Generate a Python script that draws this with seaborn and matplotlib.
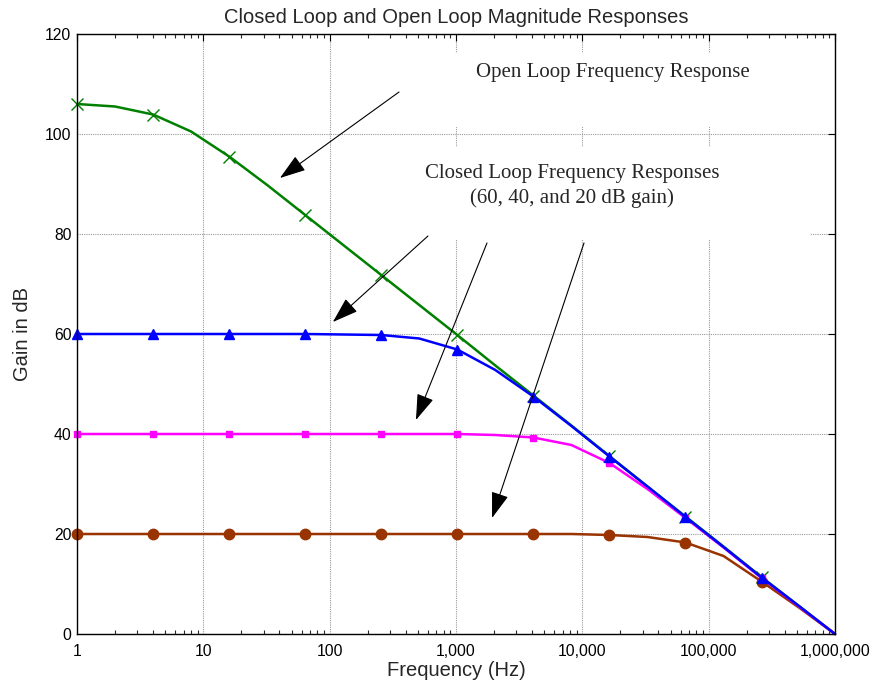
import numpy as np
import pandas as pd
import matplotlib
matplotlib.use("Agg")
import matplotlib.pyplot as plt
from matplotlib.patches import Rectangle
from matplotlib.ticker import FixedLocator, FixedFormatter, LogLocator, NullFormatter
import seaborn as sns

# ---- data ----
freq = [1, 2, 4, 8, 16, 32, 64, 128, 256, 512, 1024, 2048, 4096, 8192,
        16384, 32768, 65536, 131072, 262144, 524288, 1000000]
open_loop = [106.0, 105.5, 103.9, 100.5, 95.5, 89.8, 83.8, 77.8, 71.8, 65.8, 59.8,
             53.7, 47.7, 41.7, 35.6, 29.5, 23.5, 17.5, 11.4, 5.5, 0.0]
closed_60 = [60.0, 60.0, 60.0, 60.0, 60.0, 60.0, 60.0, 59.9, 59.8, 59.1, 56.9,
             52.8, 47.5, 41.6, 35.5, 29.5, 23.4, 17.4, 11.3, 5.5, 0.0]
closed_40 = [40.0, 40.0, 40.0, 40.0, 40.0, 40.0, 40.0, 40.0, 40.0, 40.0, 40.0,
             39.8, 39.3, 37.8, 34.2, 29.0, 23.2, 17.3, 11.2, 5.4, 0.0]
closed_20 = [20.0, 20.0, 20.0, 20.0, 20.0, 20.0, 20.0, 20.0, 20.0, 20.0, 20.0,
             20.0, 20.0, 20.0, 19.8, 19.4, 18.3, 15.6, 10.5, 5.2, 0.0]

xticks = [1, 10, 100, 1000, 10000, 100000, 1000000]
xtick_labels = ["1", "10", "100", "1,000", "10,000", "100,000", "1,000,000"]
yticks = [0, 20, 40, 60, 80, 100, 120]
ytick_labels = ["0", "20", "40", "60", "80", "100", "120"]

title = "Closed Loop and Open Loop Magnitude Responses"
xlabel = "Frequency (Hz)"
ylabel = "Gain in dB"
open_text = "Open Loop Frequency Response"
closed_text = "Closed Loop Frequency Responses\n(60, 40, and 20 dB gain)"

df = pd.DataFrame({"freq": freq, "open": open_loop, "c60": closed_60,
                   "c40": closed_40, "c20": closed_20})

# ---- style ----
sns.set_style("white")
plt.rcParams["font.family"] = ["Liberation Sans", "DejaVu Sans"]
plt.rcParams["axes.axisbelow"] = True

fig = plt.figure(figsize=(8.75, 6.85), dpi=100)
ax = fig.add_axes([77 / 875, 1 - 634 / 685, 758 / 875, 600 / 685])

every = slice(0, 19, 2)
series = [
    ("open", "#008000", "x", 8, 1.0, 1.8),
    ("c20", "#993300", "o", 7.5, 1.0, 1.8),
    ("c40", "#FF00FF", "s", 5, 1.0, 1.8),
    ("c60", "#0000FF", "^", 6.5, 1.0, 1.8),
]
for col, color, mk, ms, mew, lw in series:
    sns.lineplot(data=df, x="freq", y=col, ax=ax, color=color, lw=lw,
                 marker=mk, markersize=ms, markeredgewidth=mew,
                 markeredgecolor=color, markerfacecolor=color,
                 markevery=every, estimator=None, sort=False, legend=False,
                 clip_on=False)

ax.set_xscale("log")
ax.set_xlim(1, 1e6)
ax.set_ylim(0, 120)

ax.xaxis.set_major_locator(FixedLocator(xticks))
ax.xaxis.set_major_formatter(FixedFormatter(xtick_labels))
ax.xaxis.set_minor_locator(LogLocator(base=10, subs=np.arange(2, 10), numticks=20))
ax.xaxis.set_minor_formatter(NullFormatter())
ax.yaxis.set_major_locator(FixedLocator(yticks))
ax.yaxis.set_major_formatter(FixedFormatter(ytick_labels))

ax.tick_params(axis="both", which="major", direction="in", length=5, width=0.8,
               top=True, right=True, labelsize=11.3, colors="black")
ax.tick_params(axis="x", which="major", pad=7)
ax.tick_params(axis="y", which="major", pad=4)
ax.tick_params(axis="x", which="minor", direction="in", length=3, width=0.8,
               top=True, bottom=True)
for s in ax.spines.values():
    s.set_visible(True)
    s.set_color("black")
    s.set_linewidth(1.0)
    s.set_zorder(7)

ax.grid(True, which="major", color="#9a9a9a", linestyle=(0, (1, 1)), linewidth=0.8)

# white label boxes hiding the grid behind the annotation text
for (x0, y0, x1, y1) in [(400, 53, 790, 127), (336, 147, 810, 240)]:
    ax.add_patch(Rectangle(((x0 - 77) / 758, (634 - y1) / 600),
                           (x1 - x0) / 758, (y1 - y0) / 600,
                           transform=ax.transAxes, facecolor="white",
                           edgecolor="none", zorder=1))

ax.set_title(title, fontsize=14.5, pad=8)
ax.set_xlabel(xlabel, fontsize=14.5, labelpad=2)
ax.set_ylabel(ylabel, fontsize=14.5, labelpad=9)

serif = ["Liberation Serif", "DejaVu Serif"]
ax.text(17500, 112.2, open_text, ha="center", va="center", fontsize=15,
        family=serif, zorder=5)
ax.text(8280, 89.6, closed_text, ha="center", va="center", fontsize=15,
        family=serif, linespacing=1.3, multialignment="center", zorder=5)

arrows = [((354, 108.4), (40.4, 91.2)),
          ((600, 79.6), (106, 62.4)),
          ((1759, 78.2), (482, 42.8)),
          ((10310, 78.2), (1928, 23.2))]
for tail, head in arrows:
    ax.annotate("", xy=head, xytext=tail,
                arrowprops=dict(arrowstyle="-|>,head_length=0.9,head_width=0.3",
                                color="black", lw=0.8, shrinkA=0, shrinkB=0,
                                mutation_scale=18),
                zorder=6)

fig.savefig("out.png", dpi=100)
